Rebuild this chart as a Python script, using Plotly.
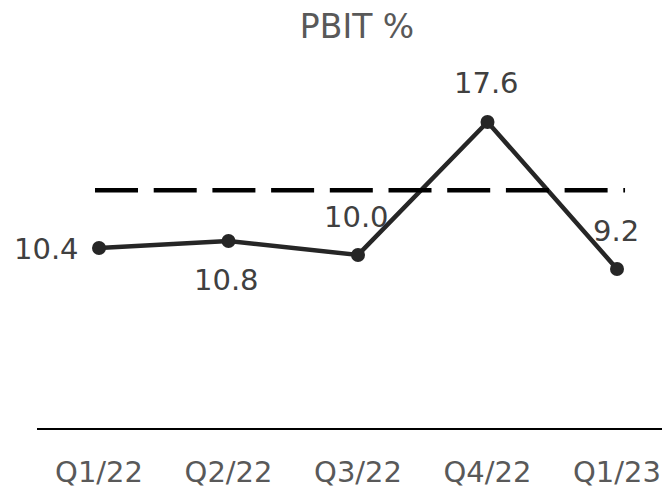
import plotly.graph_objects as go

categories = ["Q1/22", "Q2/22", "Q3/22", "Q4/22", "Q1/23"]
pbit = [10.4, 10.8, 10.0, 17.6, 9.2]
target = 13.7
title_text = "PBIT %"

FONT = "DejaVu Sans"
xs = list(range(len(categories)))

fig = go.Figure()
fig.add_shape(type="line", xref="x", yref="y",
              x0=-0.031, x1=4.062, y0=target, y1=target,
              line=dict(color="#000000", width=4.5, dash="43px,15.7px"))
fig.add_trace(go.Scatter(
    x=xs, y=pbit, mode="lines+markers",
    line=dict(color="#262626", width=4.5),
    marker=dict(size=14, color="#262626"),
    hoverinfo="skip", showlegend=False,
))

offsets = [(-53, -1), (-2, -39), (-2, 38), (-1, 39), (-1, 38)]
for x, v, (dx, dy) in zip(xs, pbit, offsets):
    fig.add_annotation(x=x, y=v, text=f"{v:.1f}", showarrow=False,
                       xshift=dx, yshift=dy,
                       font=dict(family=FONT, size=29, color="#404040"))

fig.update_layout(
    width=670, height=488,
    margin=dict(l=29, r=0, t=52, b=68),
    paper_bgcolor="white", plot_bgcolor="white",
    title=dict(text=title_text, x=349 / 670, xanchor="center",
               yref="container", y=1 - 18 / 488, yanchor="middle",
               font=dict(family=FONT, size=33, color="#595959")),
    xaxis=dict(range=[-0.479, 4.471], tickvals=xs, ticktext=categories,
               showgrid=False, zeroline=False, showline=True,
               linecolor="#000000", linewidth=2, ticks="",
               ticklabelstandoff=17,
               tickfont=dict(family=FONT, size=29, color="#595959")),
    yaxis=dict(range=[0.11, 21.14], visible=False, showgrid=False, zeroline=False),
)
fig.write_html("out.html")
